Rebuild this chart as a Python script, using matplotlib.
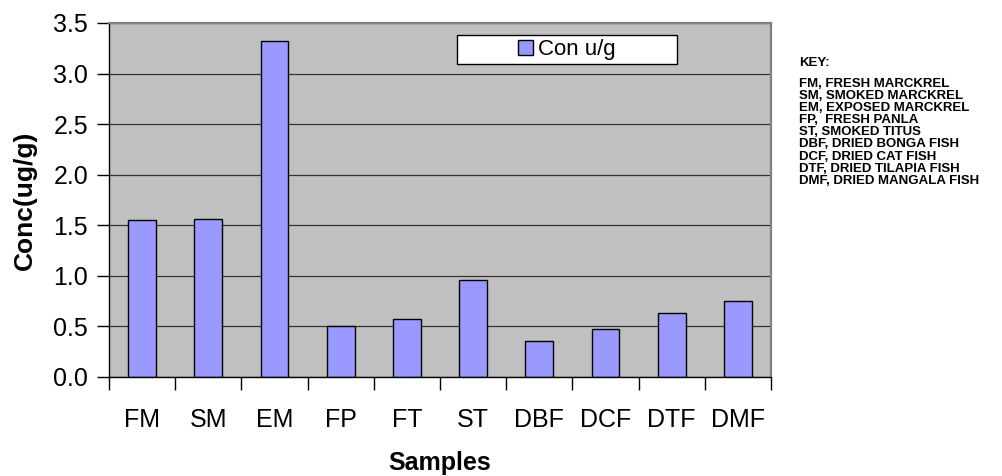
import matplotlib
matplotlib.use("Agg")
import matplotlib.pyplot as plt
from matplotlib.patches import Rectangle

categories = ["FM", "SM", "EM", "FP", "FT", "ST", "DBF", "DCF", "DTF", "DMF"]
values = [1.55, 1.56, 3.32, 0.50, 0.57, 0.96, 0.36, 0.47, 0.63, 0.75]
series_name = "Con u/g"
yticks = [0.0, 0.5, 1.0, 1.5, 2.0, 2.5, 3.0, 3.5]
key_lines = ["FM, FRESH MARCKREL", "SM, SMOKED MARCKREL", "EM, EXPOSED MARCKREL",
             "FP,  FRESH PANLA", "ST, SMOKED TITUS", "DBF, DRIED BONGA FISH",
             "DCF, DRIED CAT FISH", "DTF, DRIED TILAPIA FISH", "DMF, DRIED MANGALA FISH"]

plt.rcParams['font.family'] = ['Liberation Sans', 'DejaVu Sans']

W, H = 1003, 476
fig = plt.figure(figsize=(W / 100, H / 100), dpi=100)
ax = fig.add_axes([109 / W, (H - 377) / H, (771 - 109) / W, (377 - 23) / H])
ax.set_facecolor('#C0C0C0')

x = list(range(len(categories)))
bars = ax.bar(x, values, width=0.42, color='#9999FF', edgecolor='black', linewidth=1.0,
              zorder=3, label=series_name)

ax.set_xlim(-0.5, len(categories) - 0.5)
ax.set_ylim(0, 3.5)
ax.set_yticks(yticks)
ax.set_yticklabels([f"{v:.1f}" for v in yticks])
ax.set_xticks(x)
ax.set_xticklabels(categories)
ax.set_xticks([i - 0.5 for i in range(len(categories) + 1)], minor=True)
ax.tick_params(axis='x', which='major', length=0, pad=22, labelsize=18)
ax.tick_params(axis='x', which='minor', length=9, width=1, direction='out', color='black')
ax.tick_params(axis='y', length=9, width=1, direction='out', pad=6, labelsize=18)

ax.yaxis.grid(True, color='#333333', linewidth=0.9, zorder=1)
ax.set_axisbelow(True)

for s in ['left', 'bottom']:
    ax.spines[s].set_color('black')
    ax.spines[s].set_linewidth(1.0)
for s in ['top', 'right']:
    ax.spines[s].set_color('#808080')
    ax.spines[s].set_linewidth(1.6)
ax.spines['bottom'].set_zorder(4)

ax.set_ylabel("Conc(ug/g)", fontsize=19, fontweight='bold', labelpad=12)
ax.set_xlabel("Samples", fontsize=18, fontweight='bold', labelpad=14)

# legend box
x0 = (457 - 109) / 662
x1 = (677 - 109) / 662
y1 = (377 - 35) / 354
y0 = (377 - 64) / 354
ax.add_patch(Rectangle((x0, y0), x1 - x0, y1 - y0, transform=ax.transAxes,
                       facecolor='white', edgecolor='black', linewidth=1.0, zorder=5))
leg = ax.legend(loc='center', bbox_to_anchor=((x0 + x1) / 2, (y0 + y1) / 2),
                frameon=False, fontsize=16, handlelength=0.65, handleheight=0.65,
                handletextpad=0.25, borderpad=0.1)
leg.set_zorder(6)

fig.text(799 / W, 1 - 57 / H, "KEY:", fontsize=9.5, fontweight='bold', va='top', ha='left')
fig.text(799 / W, 1 - 78 / H, "\n".join(key_lines), fontsize=9.5, fontweight='bold',
         va='top', ha='left', linespacing=1.01)

fig.savefig("out.png", dpi=100)
